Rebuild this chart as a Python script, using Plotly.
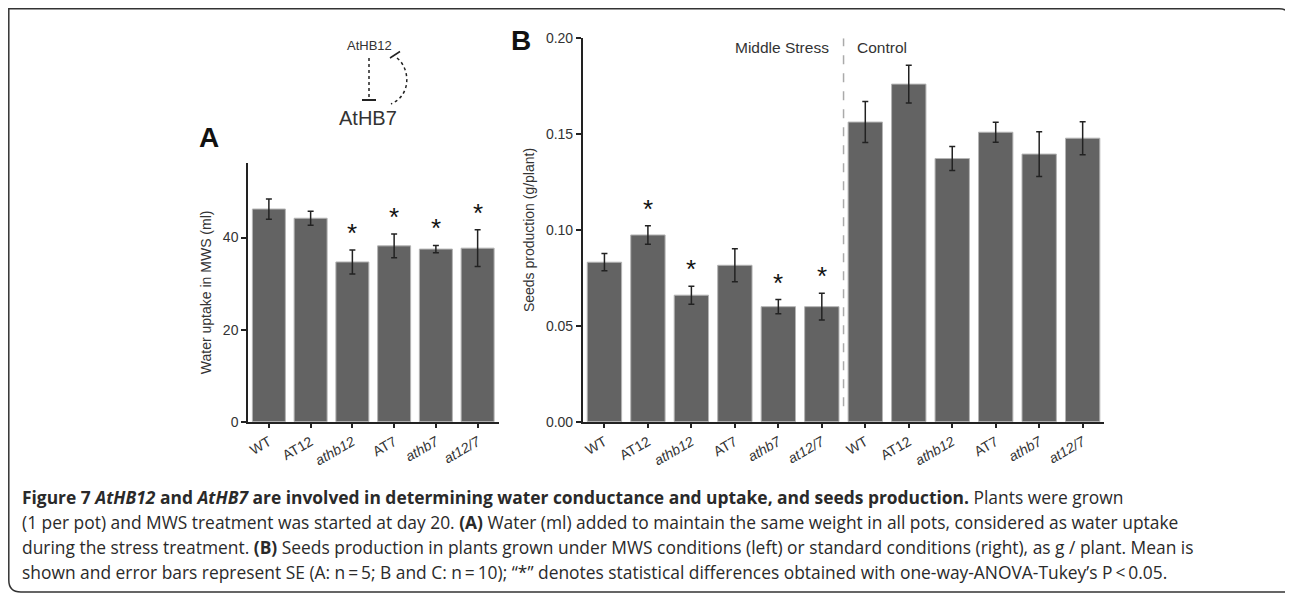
import plotly.graph_objects as go

W, H = 1293, 596
OFF = 8  # page body margin offsets the figure by 8px in the browser

# ---------------- data ----------------
genotypes = ["WT", "AT12", "athb12", "AT7", "athb7", "at12/7"]
genotype_labels = ["WT", "AT12", "<i>athb12</i>", "AT7", "<i>athb7</i>", "<i>at12/7</i>"]

water_uptake = [46.2, 44.2, 34.7, 38.2, 37.5, 37.7]
water_uptake_se = [2.2, 1.5, 2.6, 2.6, 0.8, 4.0]
water_sig = [False, False, True, True, True, True]

seeds_stress = [0.0832, 0.0974, 0.0660, 0.0816, 0.0600, 0.0600]
seeds_stress_se = [0.0045, 0.0048, 0.0047, 0.0086, 0.0037, 0.0070]
seeds_stress_sig = [False, True, True, False, True, True]

seeds_control = [0.1563, 0.1761, 0.1373, 0.1510, 0.1396, 0.1479]
seeds_control_se = [0.0107, 0.0099, 0.0063, 0.0052, 0.0117, 0.0086]
seeds_control_sig = [False, False, False, False, False, False]

seeds_yticks = [0.0, 0.05, 0.10, 0.15, 0.20]
water_yticks = [0, 20, 40]

# ---------------- helpers (screen pixel -> paper fraction) ----------------
def px(x):
    return (x - OFF) / W

def py(y):
    return (H - (y - OFF)) / H

BAR = "#636363"
EDGE = "#b4b4b4"
AX = "#222222"
TXT = "#333333"
FONT = "Liberation Sans, Arial, sans-serif"

fig = go.Figure()

xa = list(range(len(genotypes)))
fig.add_trace(go.Bar(
    x=xa, y=water_uptake, xaxis="x", yaxis="y",
    marker=dict(color=BAR, line=dict(color=EDGE, width=1)),
    error_y=dict(type="data", array=water_uptake_se, color=AX, thickness=1.5, width=3),
    showlegend=False, hoverinfo="skip",
))

seeds_all = seeds_stress + seeds_control
seeds_se_all = seeds_stress_se + seeds_control_se
seeds_sig_all = seeds_stress_sig + seeds_control_sig
xb = list(range(len(seeds_all)))
fig.add_trace(go.Bar(
    x=xb, y=seeds_all, xaxis="x2", yaxis="y2",
    marker=dict(color=BAR, line=dict(color=EDGE, width=1)),
    error_y=dict(type="data", array=seeds_se_all, color=AX, thickness=1.5, width=3),
    showlegend=False, hoverinfo="skip",
))

annotations = []
STAR = dict(family=FONT, size=26, color="#111")
for i, (v, s, sig) in enumerate(zip(water_uptake, water_uptake_se, water_sig)):
    if sig:
        annotations.append(dict(x=i, y=v + s, xref="x", yref="y", text="*",
                                showarrow=False, xanchor="center", yanchor="bottom",
                                yshift=0, font=STAR))
for i, (v, s, sig) in enumerate(zip(seeds_all, seeds_se_all, seeds_sig_all)):
    if sig:
        annotations.append(dict(x=i, y=v + s, xref="x2", yref="y2", text="*",
                                showarrow=False, xanchor="center", yanchor="bottom",
                                yshift=0, font=STAR))

def label(x, y, text, size, color=TXT, xanchor="center", family=FONT):
    return dict(x=px(x), y=py(y), xref="paper", yref="paper", text=text,
                showarrow=False, xanchor=xanchor, yanchor="middle",
                font=dict(family=family, size=size, color=color))

annotations.append(label(209, 138, "<b>A</b>", 28, "#111"))
annotations.append(label(521, 40, "<b>B</b>", 28, "#111"))

annotations.append(dict(x=5.5, y=0.2, xref="x2", yref="y2", text="Middle Stress",
                        showarrow=False, xanchor="right", yanchor="middle", xshift=-13, yshift=-9,
                        font=dict(family=FONT, size=15.5, color=TXT)))
annotations.append(dict(x=5.5, y=0.2, xref="x2", yref="y2", text="Control",
                        showarrow=False, xanchor="left", yanchor="middle", xshift=11, yshift=-9,
                        font=dict(family=FONT, size=15.5, color=TXT)))

annotations.append(label(369, 46, "AtHB12", 13))
annotations.append(label(368, 118, "AtHB7", 20))

CAP = "Open Sans, Noto Sans, sans-serif"
TS = "\u2009"
cap_lines = [
    "<b>Figure 7 <i>AtHB12</i> and <i>AtHB7</i> are involved in determining water conductance and uptake, and seeds production.</b> Plants were grown",
    "(1 per pot) and MWS treatment was started at day 20. <b>(A)</b> Water (ml) added to maintain the same weight in all pots, considered as water uptake",
    "during the stress treatment. <b>(B)</b> Seeds production in plants grown under MWS conditions (left) or standard conditions (right), as g / plant. Mean is",
    f"shown and error bars represent SE (A: n{TS}={TS}5; B and C: n{TS}={TS}10); \u201c*\u201d denotes statistical differences obtained with one-way-ANOVA-Tukey\u2019s P{TS}&lt;{TS}0.05.",
]
cap_y = [497, 522, 547, 572]
for t, yy in zip(cap_lines, cap_y):
    annotations.append(label(20, yy, t, 17.4, "#2a2a2a", xanchor="left", family=CAP))

shapes = []
shapes.append(dict(type="line", xref="x2", yref="y2", x0=5.5, x1=5.5, y0=0.008, y1=0.2,
                   line=dict(color="#aaaaaa", width=1.5, dash="dash")))

shapes.append(dict(type="line", xref="paper", yref="paper", x0=px(369), x1=px(369),
                   y0=py(58), y1=py(100), line=dict(color="#222", width=1.5, dash="dot")))
shapes.append(dict(type="line", xref="paper", yref="paper", x0=px(362), x1=px(376),
                   y0=py(100), y1=py(100), line=dict(color="#222", width=2)))
shapes.append(dict(type="path", xref="paper", yref="paper",
                   path=f"M {px(397)},{py(58)} C {px(410)},{py(68)} {px(412)},{py(95)} {px(391)},{py(104)}",
                   line=dict(color="#222", width=1.5, dash="dot")))
shapes.append(dict(type="line", xref="paper", yref="paper", x0=px(390), x1=px(400),
                   y0=py(58), y1=py(51.5), line=dict(color="#222", width=1.5)))

# outer frame (rounded top-right & bottom-left corners)
L, T, R, B, r = 8.8, 8.8, 1291, 592, 12
frame = (f"M {px(L)},{py(T)} L {px(R - r)},{py(T)} "
         f"Q {px(R)},{py(T)} {px(R)},{py(T + r)} "
         f"L {px(R)},{py(B)} L {px(L + r)},{py(B)} "
         f"Q {px(L)},{py(B)} {px(L)},{py(B - r)} Z")
shapes.append(dict(type="path", xref="paper", yref="paper", path=frame,
                   line=dict(color="#333", width=1.5)))

axis_common = dict(showline=True, linecolor=AX, linewidth=1.5, ticks="outside",
                   ticklen=5, tickwidth=1.5, tickcolor=AX, showgrid=False, zeroline=False,
                   automargin=False, fixedrange=True,
                   tickfont=dict(family=FONT, size=14, color=TXT))

fig.update_layout(
    width=W, height=H, margin=dict(l=0, r=0, t=0, b=0, pad=0, autoexpand=False),
    paper_bgcolor="white", plot_bgcolor="white",
    bargap=0.21, showlegend=False,
    xaxis=dict(domain=[px(248), px(498.5)], anchor="y", range=[-0.5, 5.5],
               tickvals=xa, ticktext=genotype_labels, tickangle=-30, **axis_common),
    yaxis=dict(domain=[py(421.7), py(163)], anchor="x", range=[0, 56.2],
               tickvals=water_yticks,
               title=dict(text="Water uptake in MWS (ml)", standoff=8,
                          font=dict(family=FONT, size=14, color=TXT)),
               **axis_common),
    xaxis2=dict(domain=[px(582.7), px(1104.4)], anchor="y2", range=[-0.5, 11.5],
                tickvals=xb, ticktext=genotype_labels + genotype_labels, tickangle=-30,
                **axis_common),
    yaxis2=dict(domain=[py(421.7), py(38.3)], anchor="x2", range=[0, 0.2],
                tickvals=seeds_yticks, tickformat=".2f",
                title=dict(text="Seeds production (g/plant)", standoff=8,
                           font=dict(family=FONT, size=14, color=TXT)),
                **axis_common),
    annotations=annotations,
    shapes=shapes,
)

fig.write_html("out.html")
